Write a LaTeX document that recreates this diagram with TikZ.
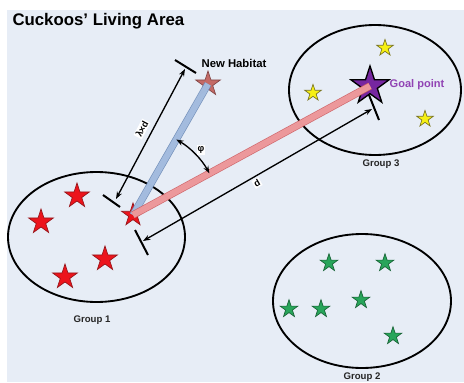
\documentclass[tikz,border=0pt]{standalone}
\usepackage{fontspec}
\setmainfont{Liberation Sans}
\usetikzlibrary{shapes.geometric,arrows.meta}

\definecolor{areabg}{RGB}{231,237,246}
\definecolor{eggred}{RGB}{236,20,28}
\definecolor{eggredline}{RGB}{150,20,25}
\definecolor{eggyellow}{RGB}{246,240,20}
\definecolor{eggyellowline}{RGB}{120,115,30}
\definecolor{egggreen}{RGB}{40,165,90}
\definecolor{egggreenline}{RGB}{25,100,55}
\definecolor{habitatrose}{RGB}{196,106,102}
\definecolor{habitatline}{RGB}{130,70,70}
\definecolor{goalpurple}{RGB}{118,38,160}
\definecolor{goaltext}{RGB}{145,68,180}
\definecolor{beamblue}{RGB}{168,192,226}
\definecolor{beambluel}{RGB}{105,135,180}
\definecolor{beamred}{RGB}{240,158,160}
\definecolor{beamredl}{RGB}{205,90,95}

\tikzset{every picture/.style={line width=0.75pt}}
\tikzset{
  egg/.style={star, star points=5, star point ratio=2.6, inner sep=0pt, line width=0.5pt},
  redegg/.style={egg, fill=eggred, draw=eggredline},
  yellowegg/.style={egg, fill=eggyellow, draw=eggyellowline, minimum size=13pt},
  greenegg/.style={egg, fill=egggreen, draw=egggreenline, minimum size=14pt},
  grouprim/.style={draw=black, line width=1.4pt},
  grouplabel/.style={font=\bfseries\fontsize{7.2}{8}\selectfont, text=black!85},
  beam/.style={line width=0.5pt, double distance=4.6pt, opacity=0.9},
  dimline/.style={line width=1pt, {Stealth[length=5.5pt,width=4pt]}-{Stealth[length=5.5pt,width=4pt]}},
  dimtick/.style={line width=1.5pt},
  dimlabel/.style={font=\bfseries\fontsize{7}{8}\selectfont, fill=white, inner sep=0.8pt}
}

\begin{document}
\begin{tikzpicture}[x=0.75pt,y=0.75pt,yscale=-1,xscale=1]
		\useasboundingbox (0,0) rectangle (464,382);
		%Shape: Rectangle [background]
		\fill[areabg] (7,10) rectangle (464,382);

		% Title
		\node[font=\bfseries\fontsize{12.6}{15}\selectfont, anchor=base west, inner sep=0pt] (title) at (12,26) {Cuckoos' Living Area};

		%Shape: Ellipse [group 1]
		\draw[grouprim] (96.5,237) ellipse (88.5 and 65);
		%Shape: Ellipse [group 3]
		\draw[grouprim] (375,90) ellipse (86 and 65);
		%Shape: Ellipse [group 2]
		\draw[grouprim] (362,301) ellipse (89 and 67);

		%Shape: Stars [group 1]
		\node[redegg, minimum size=19.5pt] (red1) at (77,196) {};
		\node[redegg, minimum size=19.5pt] (red2) at (41,222) {};
		\node[redegg, minimum size=19.5pt] (red3) at (105,259) {};
		\node[redegg, minimum size=19.5pt] (red4) at (65,277) {};
		\node[redegg, minimum size=18pt] (cuckoo) at (133,215) {};

		%Shape: Stars [group 3]
		\node[yellowegg] (yel1) at (385,48) {};
		\node[yellowegg] (yel2) at (313,93) {};
		\node[yellowegg] (yel3) at (425,119) {};
		\node[egg, fill=goalpurple, draw=black, line width=1pt, minimum size=30pt] (goal) at (370,86) {};

		%Shape: Stars [group 2]
		\node[greenegg] (grn1) at (329,263) {};
		\node[greenegg] (grn2) at (385,263) {};
		\node[greenegg] (grn3) at (289,309) {};
		\node[greenegg] (grn4) at (321,309) {};
		\node[greenegg] (grn5) at (361,300) {};
		\node[greenegg] (grn6) at (393,336) {};

		%Shape: Star [new habitat]
		\node[egg, fill=habitatrose, draw=habitatline, minimum size=19.5pt] (newhab) at (208,84) {};

		%Straight Lines [beams]
		\draw[beam, draw=beambluel, double=beamblue] (cuckoo.center) -- (newhab.center);
		\draw[beam, draw=beamredl, double=beamred] (cuckoo.center) -- (goal.center);

		%Straight Lines [lambda x d]
		\coordinate (lamlo) at (116,199);
		\coordinate (lamhi) at (185,69);
		\draw[dimtick] (103,195) -- (120,207);
		\draw[dimtick] (175,60) -- (196,73);
		\draw[dimline] (lamlo) -- (lamhi);
		%Straight Lines [d]
		\coordinate (dlo) at (143,241);
		\coordinate (dhi) at (372,109);
		\draw[dimtick] (135,230) -- (148,255);
		\draw[dimtick] (369,95) -- (379,120);
		\draw[dimline] (dlo) -- (dhi);
		%Curve Lines [phi]
		\draw[dimline] ([shift={(-60.2:87)}]cuckoo.center) arc[start angle=-60.2, end angle=-28.6, radius=87];

		% Text Node
		\node[dimlabel, rotate=62] (lamtext) at (142,129) {λ×d};
		% Text Node
		\node[dimlabel, rotate=30] (dtext) at (257,183) {d};
		% Text Node
		\node[dimlabel] (phitext) at (201,150) {φ};
		% Text Node
		\node[font=\bfseries\fontsize{8.5}{10}\selectfont] (nhtext) at (234,63) {New Habitat};
		% Text Node
		\node[font=\bfseries\fontsize{8.3}{10}\selectfont, text=goaltext] (goaltxt) at (417,85) {Goal point};
		% Text Node
		\node[grouplabel] (g1text) at (92,320) {Group 1};
		% Text Node
		\node[grouplabel] (g3text) at (381,164) {Group 3};
		% Text Node
		\node[grouplabel] (g2text) at (362,377) {Group 2};

\end{tikzpicture}
\end{document}
